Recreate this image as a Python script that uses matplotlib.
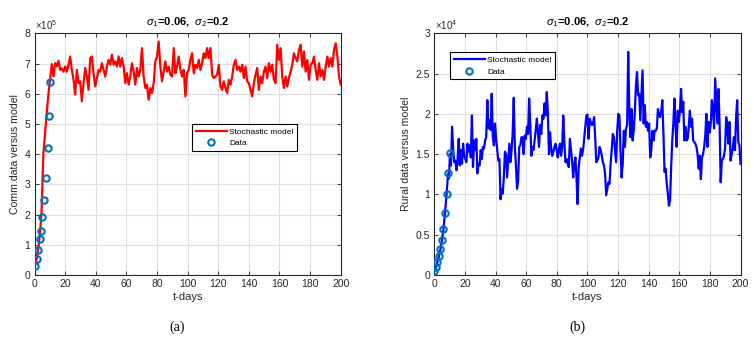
import numpy as np
import matplotlib
matplotlib.use("Agg")
import matplotlib.pyplot as plt
from matplotlib.ticker import FuncFormatter, MultipleLocator

plt.rcParams['font.family'] = ['Liberation Sans', 'DejaVu Sans']
plt.rcParams['mathtext.fontset'] = 'custom'
plt.rcParams['mathtext.rm'] = 'Liberation Sans'
plt.rcParams['mathtext.it'] = 'Liberation Sans:italic'

# ---------------- data ----------------
# (a) commercial: values in units of 1e5
comm_exp = 5
comm_data_t = [0.4, 1.5, 2.6, 3.5, 4.4, 5.2, 6.5, 7.6, 8.5, 9.4, 10.2]
comm_data = [0.29, 0.54, 0.82, 1.18, 1.47, 1.92, 2.49, 3.22, 4.20, 5.26, 6.38]
comm_early_t = [0.4, 1.5, 2.8, 3.8, 4.6, 5.2, 5.8, 7.4, 9.1, 10.0]
comm_early = [0.30, 0.55, 1.00, 1.50, 2.10, 3.00, 4.00, 5.00, 6.00, 6.40]
comm_start, comm_end = 11.3, 200.0
comm_model = [
    6.98, 6.57, 7.01, 6.90, 7.09, 6.79, 6.84, 6.73, 6.90, 6.73,
    6.96, 7.23, 6.79, 6.46, 5.97, 6.79, 6.35, 6.41, 5.75, 6.35,
    6.85, 6.57, 6.13, 7.18, 7.23, 6.68, 6.24, 6.52, 6.79, 6.73,
    7.01, 6.79, 6.57, 6.90, 7.12, 6.96, 7.29, 6.96, 7.07, 6.90,
    7.23, 6.90, 7.18, 6.90, 6.35, 6.68, 6.30, 6.57, 7.01, 6.73,
    6.30, 6.85, 6.57, 6.79, 7.51, 6.57, 6.19, 6.30, 5.80, 6.19,
    6.02, 6.35, 7.07, 7.23, 7.73, 6.90, 6.41, 6.73, 7.07, 6.73,
    6.90, 6.63, 6.57, 7.51, 6.68, 6.90, 7.23, 6.79, 6.57, 6.79,
    5.91, 6.68, 6.79, 7.12, 7.34, 6.68, 6.96, 6.85, 7.12, 6.79,
    7.01, 7.34, 7.18, 7.51, 7.18, 7.51, 6.63, 6.52, 6.57, 6.63,
    6.96, 6.24, 6.13, 6.41, 6.19, 6.02, 6.46, 6.30, 6.57, 6.96,
    7.12, 6.79, 6.90, 6.73, 6.96, 6.52, 6.90, 6.41, 6.35, 6.13,
    5.91, 6.35, 6.63, 6.85, 6.13, 6.57, 6.35, 6.73, 6.90, 6.52,
    7.01, 6.73, 6.96, 6.46, 6.35, 7.62, 7.12, 7.51, 6.57, 6.19,
    6.57, 6.24, 6.52, 6.73, 6.96, 7.34, 7.18, 7.07, 7.45, 7.62,
    6.90, 7.40, 6.73, 7.12, 6.46, 6.96, 7.01, 7.23, 6.79, 6.46,
    7.01, 6.57, 6.79, 6.46, 6.90, 7.23, 6.90, 7.18, 6.90, 7.45,
    7.67, 7.23, 6.57, 6.30,
]

# (b) rural: values in units of 1e4
rural_exp = 4
rural_data_t = [0, 1, 2, 3, 4, 5, 6, 7, 8, 9, 10]
rural_data = [0.05, 0.10, 0.16, 0.23, 0.32, 0.43, 0.57, 0.77, 1.00, 1.26, 1.52]
rural_early_t = [0, 1, 2, 3, 4, 5, 6, 7, 8, 9, 9.6, 10.2]
rural_early = [0.05, 0.10, 0.16, 0.23, 0.32, 0.43, 0.57, 0.77, 1.00, 1.26, 1.20, 1.50]
rural_start, rural_end = 10.9, 200.0
rural_model = [
    1.36, 1.84, 1.55, 1.40, 1.42, 1.30, 1.44, 1.69, 1.36, 1.55,
    1.38, 1.63, 1.48, 1.44, 1.40, 1.63, 1.53, 1.61, 1.46, 1.98,
    1.34, 1.67, 1.55, 1.69, 1.26, 1.38, 1.36, 1.55, 1.44, 1.59,
    1.57, 1.67, 1.71, 2.17, 1.82, 1.92, 1.80, 2.25, 1.71, 1.61,
    1.88, 1.69, 1.55, 1.42, 1.44, 0.94, 1.07, 1.01, 1.21, 1.53,
    1.50, 1.21, 1.42, 1.63, 1.40, 1.55, 1.75, 2.20, 1.60, 1.36,
    1.07, 1.17, 1.59, 1.61, 1.71, 1.71, 1.50, 1.73, 1.69, 1.84,
    1.75, 2.19, 1.88, 1.48, 1.59, 1.55, 1.67, 1.80, 1.94, 1.77,
    1.59, 1.86, 1.75, 1.98, 1.94, 2.13, 1.98, 2.27, 2.02, 1.50,
    1.77, 1.57, 1.48, 1.53, 1.59, 1.63, 1.55, 1.46, 1.55, 1.63,
    1.48, 1.59, 1.98, 1.65, 1.40, 1.44, 1.38, 1.34, 1.69, 1.55,
    1.42, 1.21, 1.36, 1.46, 1.21, 0.88, 1.34, 1.46, 1.57, 1.48,
    1.55, 1.69, 1.82, 1.98,
    1.99, 1.69, 1.94, 1.90, 1.86, 1.88, 1.96, 1.71, 1.40, 1.42,
    1.46, 1.59, 1.55, 1.48, 1.40, 1.36, 1.26, 0.99, 1.07, 1.15,
    1.13, 1.38, 1.55, 1.75, 1.71, 1.55, 1.40, 1.79, 2.00, 1.98,
    1.55, 1.21, 1.38, 1.79, 1.59, 1.82, 1.86, 2.77, 2.04, 1.71,
    2.06, 1.67, 1.79, 2.02, 2.35, 2.52, 2.23, 2.25, 1.92, 2.23,
    2.54, 1.88, 2.11, 1.84, 1.90, 1.79, 1.88, 1.46, 1.55, 1.79,
    1.67, 1.79, 1.79, 1.82, 2.06, 1.98, 1.96, 2.04, 2.17, 1.75,
    1.28, 1.32, 1.13, 1.01, 0.86, 0.92, 1.34, 1.67, 1.88, 2.19,
    1.84, 1.59, 2.04, 1.90, 2.04, 2.31, 2.02, 2.15, 1.67, 1.84,
    1.67, 1.69, 1.84, 2.04, 1.84, 1.94, 1.67, 1.65, 1.63, 1.59,
    1.50, 1.32, 1.48, 1.19, 1.46, 1.50, 1.59, 1.73, 2.00, 1.59,
    1.90, 1.77, 1.88, 2.17, 2.06, 1.82, 2.44, 2.17, 1.88, 2.31,
    1.88, 1.15, 1.42, 1.44, 1.48, 1.57, 1.96, 1.84, 1.63, 1.90,
    1.42, 1.50, 1.57, 1.71, 1.55, 1.96, 2.17, 1.65, 1.61, 1.38,
]

title_text = r'$\sigma_1$=0.06,  $\sigma_2$=0.2'
xlabel_text = 't-days'
comm_ylabel = 'Comm.data versus model'
rural_ylabel = 'Rural data versus model'
legend_labels = ['Stochastic model', 'Data']
panel_labels = ['(a)', '(b)']

# ---------------- figure ----------------
fig = plt.figure(figsize=(7.54, 3.40), dpi=100)
axA = fig.add_axes([34.5 / 754, 1 - 275 / 340, 306.2 / 754, 241.7 / 340])
axB = fig.add_axes([434.3 / 754, 1 - 275 / 340, 306.2 / 754, 241.7 / 340])

marker_color = (0.0, 0.447, 0.741)
axis_color = (0.15, 0.15, 0.15)


def build(ax, early_t, early_v, start, end, model, data_t, data_v, exp,
          color, ylim, ystep, ylabel, leg_anchor):
    scale = 10.0 ** exp
    mt = np.concatenate([early_t, np.linspace(start, end, len(model))])
    mv = np.concatenate([early_v, model]) * scale
    ax.plot(mt, mv, color=color, lw=1.6, label=legend_labels[0], zorder=3)
    ax.plot(np.array(data_t), np.array(data_v) * scale, 'o', ms=4.6,
            mfc='none', mec=marker_color, mew=1.5, label=legend_labels[1],
            zorder=4)
    ax.set_xlim(0, 200)
    ax.set_ylim(ylim[0] * scale, ylim[1] * scale)
    ax.xaxis.set_major_locator(MultipleLocator(20))
    ax.yaxis.set_major_locator(MultipleLocator(ystep * scale))
    ax.yaxis.set_major_formatter(FuncFormatter(lambda v, p: '%g' % round(v / scale, 3)))
    ax.text(0.003, 1.004, r'$\times 10^{%d}$' % exp, transform=ax.transAxes,
            ha='left', va='bottom', fontsize=7, color=axis_color)
    ax.grid(True, color=(0.87, 0.87, 0.87), lw=0.8)
    ax.set_axisbelow(True)
    ax.tick_params(direction='in', length=3, width=0.6, top=True, right=True,
                   labelsize=7.5, colors=axis_color, pad=3)
    for s in ax.spines.values():
        s.set_color(axis_color)
        s.set_linewidth(0.8)
    ax.set_xlabel(xlabel_text, fontsize=8, color=axis_color, labelpad=2)
    ax.set_ylabel(ylabel, fontsize=7.6, color=axis_color, labelpad=3)
    ax.set_title(title_text, fontsize=8, fontweight='bold', pad=6)
    leg = ax.legend(loc='upper left', bbox_to_anchor=leg_anchor,
                    borderaxespad=0, fancybox=False, framealpha=1,
                    edgecolor='black', fontsize=6.0, handlelength=3.7,
                    handletextpad=0.3, borderpad=0.45, labelspacing=0.45)
    leg.get_frame().set_linewidth(0.8)


build(axA, comm_early_t, comm_early, comm_start, comm_end, comm_model,
      comm_data_t, comm_data, comm_exp, (1.0, 0.0, 0.0), (0, 8), 1,
      comm_ylabel, (0.515, 0.625))
build(axB, rural_early_t, rural_early, rural_start, rural_end, rural_model,
      rural_data_t, rural_data, rural_exp, (0.0, 0.0, 1.0), (0, 3), 0.5,
      rural_ylabel, (0.052, 0.921))

fig.text(177 / 754, 1 - 327 / 340, panel_labels[0], ha='center', va='center',
         fontsize=10, family='Liberation Serif')
fig.text(577 / 754, 1 - 327 / 340, panel_labels[1], ha='center', va='center',
         fontsize=10, family='Liberation Serif')

fig.savefig('out.png', dpi=100, facecolor='white')
